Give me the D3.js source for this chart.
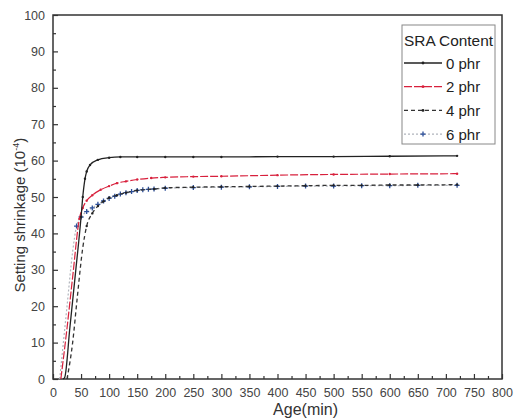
<!DOCTYPE html>
<html>
<head>
<meta charset="utf-8">
<script src="https://cdn.jsdelivr.net/npm/d3@7"></script>
<style>
  body { margin: 0; background: #fff; }
  svg text { font-family: "Liberation Sans", Arial, sans-serif; }
</style>
</head>
<body>
<div id="chart"></div>
<script>
// ---- data ----
const seriesNames = ['0 phr', '2 phr', '4 phr', '6 phr'];

const age0 = [18, 21, 30, 40, 50, 53, 57, 60, 66, 80, 100, 120, 150, 200, 250, 300, 400, 500, 600, 720];
const shr0 = [0, 0.5, 14, 29, 44.5, 50, 55, 57, 58.8, 60.2, 60.8, 61, 61, 61, 61, 61, 61.1, 61.1, 61.2, 61.3];

const age2 = [14, 25, 35, 47, 53, 60, 70, 85, 100, 114, 130, 150, 175, 200, 250, 300, 400, 500, 600, 720];
const shr2 = [0, 14, 28, 44, 47, 49, 50.5, 52, 53, 53.8, 54.3, 54.8, 55.2, 55.4, 55.6, 55.7, 56, 56.2, 56.3, 56.4];

const age4 = [25, 35, 43, 53, 60, 70, 80, 90, 100, 114, 130, 150, 180, 200, 250, 300, 350, 400, 450, 500, 550, 600, 650, 720];
const shr4 = [0, 10, 22, 36, 42, 45.5, 47.5, 48.8, 49.8, 50.5, 51.2, 51.8, 52.2, 52.5, 52.7, 52.8, 52.9, 53, 53.1, 53.2, 53.2, 53.3, 53.3, 53.4];

const age6 = [12, 25, 35, 42, 50, 60, 70, 80, 90, 100, 110, 120, 130, 140, 150, 160, 170, 180, 200, 250, 300, 350, 400, 450, 500, 550, 600, 650, 720];
const shr6 = [0, 20, 35, 42, 44.5, 46, 47, 48, 48.9, 49.6, 50.2, 50.8, 51.2, 51.5, 51.8, 52, 52.1, 52.2, 52.4, 52.6, 52.7, 52.8, 52.9, 53, 53, 53.1, 53.1, 53.2, 53.2];

const xTicks = [0, 50, 100, 150, 200, 250, 300, 350, 400, 450, 500, 550, 600, 650, 700, 750, 800];
const yTicks = [0, 10, 20, 30, 40, 50, 60, 70, 80, 90, 100];

// ---- layout ----
const W = 515, H = 419;
const m = { left: 53, top: 15, right: 13, bottom: 40 };
const iw = W - m.left - m.right, ih = H - m.top - m.bottom;

const svg = d3.select('#chart').append('svg')
  .attr('width', W).attr('height', H);

const g = svg.append('g').attr('transform', `translate(${m.left},${m.top})`);

const x = d3.scaleLinear().domain([0, 800]).range([0, iw]);
const y = d3.scaleLinear().domain([0, 100]).range([ih, 0]);

// frame
g.append('rect').attr('width', iw).attr('height', ih)
  .attr('fill', 'none').attr('stroke', '#333').attr('stroke-width', 1.5);

// x axis: major + minor ticks pointing inward
g.append('g').attr('transform', `translate(0,${ih})`)
  .call(d3.axisBottom(x).tickValues(xTicks).tickSize(-5).tickPadding(9).tickFormat(d3.format('d')));
g.append('g').attr('transform', `translate(0,${ih})`)
  .call(d3.axisBottom(x).tickValues(d3.range(25, 800, 50)).tickSize(-3).tickFormat(''));

g.append('g')
  .call(d3.axisLeft(y).tickValues(yTicks).tickSize(-5).tickPadding(8));
g.append('g')
  .call(d3.axisLeft(y).tickValues(d3.range(5, 100, 10)).tickSize(-3).tickFormat(''));

g.selectAll('.domain').remove();
g.selectAll('.tick line').attr('stroke', '#333').attr('stroke-width', 1.2);
g.selectAll('.tick text').attr('font-size', 12.5).attr('fill', '#444')
  .style('font-family', '"Liberation Sans", Arial, sans-serif');

// axis titles
svg.append('text')
  .attr('x', m.left + x(450)).attr('y', 415)
  .attr('text-anchor', 'middle').attr('font-size', 16).attr('fill', '#333')
  .text('Age(min)');

const yt = svg.append('text')
  .attr('transform', `translate(25,${m.top + y(45)}) rotate(-90)`)
  .attr('text-anchor', 'middle').attr('font-size', 15).attr('fill', '#333');
yt.append('tspan').text('Setting shrinkage (10');
yt.append('tspan').attr('dy', -6).attr('font-size', 9).text('-4');
yt.append('tspan').attr('dy', 6).text(')');

// ---- series ----
const styles = [
  { color: '#222', width: 1.3, dash: null, marker: '#222', shape: 'dot' },
  { color: '#d8203c', width: 1.2, dash: '8,2', marker: '#d8203c', shape: 'dot' },
  { color: '#333', width: 1.3, dash: '4,3', marker: '#222', shape: 'dot' },
  { color: '#b0b4bc', width: 1.2, dash: '2,2', marker: '#2c4f9a', shape: 'plus' }
];
const series = [
  d3.zip(age0, shr0), d3.zip(age2, shr2), d3.zip(age4, shr4), d3.zip(age6, shr6)
];

const line = d3.line().x(d => x(d[0])).y(d => y(d[1])).curve(d3.curveMonotoneX);

// draw back to front so 0 phr stays on top
[3, 2, 1, 0].forEach(i => {
  const s = styles[i];
  g.append('path').datum(series[i])
    .attr('fill', 'none').attr('stroke', s.color).attr('stroke-width', s.width)
    .attr('stroke-dasharray', s.dash).attr('d', line);
  const pts = g.append('g').selectAll('g').data(series[i].filter(d => d[1] > 40))
    .join('g').attr('transform', d => `translate(${x(d[0])},${y(d[1])})`);
  if (s.shape === 'plus') {
    pts.append('path').attr('d', 'M-2.5,0H2.5M0,-2.5V2.5')
      .attr('stroke', s.marker).attr('stroke-width', 1.3);
  } else {
    pts.append('circle').attr('r', 1.2).attr('fill', s.marker);
  }
});

// ---- legend ----
const lg = svg.append('g').attr('transform', 'translate(402,25)');
lg.append('rect').attr('width', 93).attr('height', 119)
  .attr('fill', '#fff').attr('stroke', '#888').attr('stroke-width', 1);
lg.append('text').attr('x', 2).attr('y', 21).attr('font-size', 15).attr('fill', '#222')
  .attr('textLength', 89).attr('lengthAdjust', 'spacingAndGlyphs')
  .text('SRA Content');

const rows = lg.selectAll('.row').data(seriesNames).join('g')
  .attr('transform', (d, i) => `translate(0,${38 + i * 23.7})`);
rows.append('line').attr('x1', 2).attr('x2', 40).attr('y1', 0).attr('y2', 0)
  .attr('stroke', (d, i) => styles[i].color)
  .attr('stroke-width', (d, i) => styles[i].width)
  .attr('stroke-dasharray', (d, i) => styles[i].dash);
rows.each(function (d, i) {
  const s = styles[i];
  const r = d3.select(this);
  if (s.shape === 'plus') {
    r.append('path').attr('d', 'M18.5,0H23.5M21,-2.5V2.5').attr('stroke', s.marker).attr('stroke-width', 1.3);
  } else {
    r.append('circle').attr('cx', 21).attr('r', 1.4).attr('fill', s.marker);
  }
});
rows.append('text').attr('x', 44).attr('y', 5.5).attr('font-size', 15).attr('fill', '#222')
  .text(d => d);
</script>
</body>
</html>
